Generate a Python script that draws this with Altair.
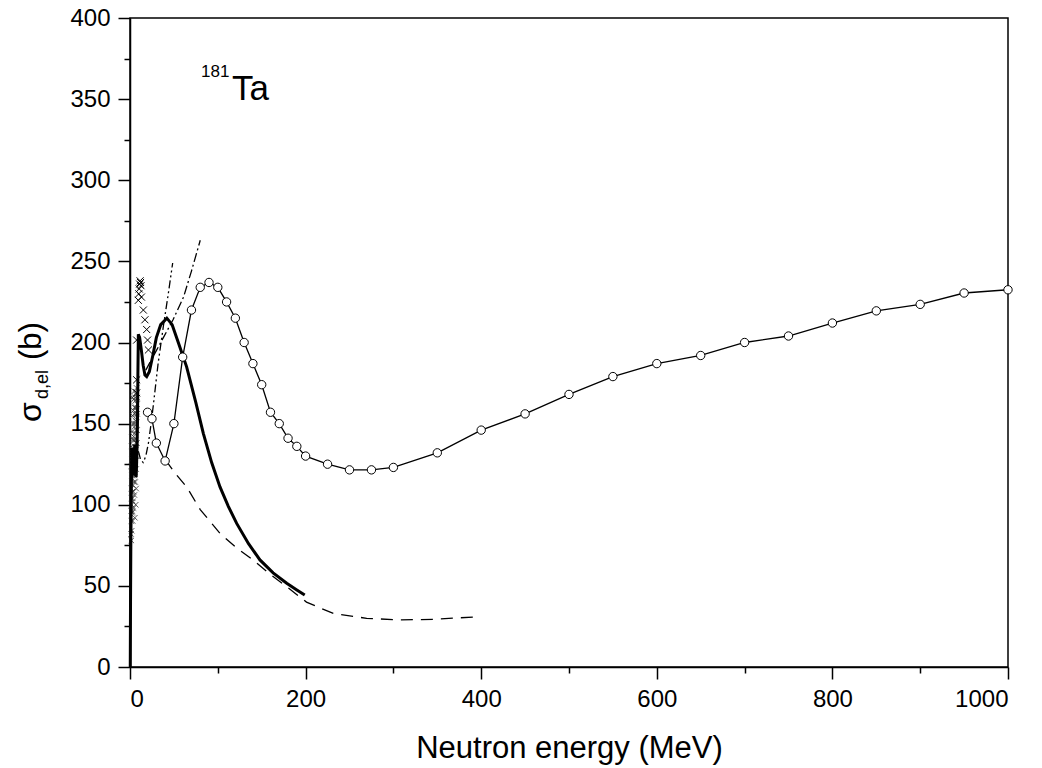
import altair as alt
import pandas as pd

FONT = "Liberation Sans"

# ---- open-circle series ----
circ_E = [20, 25, 30, 40, 50, 60, 70, 80, 90, 100, 110, 120, 130, 140, 150, 160, 170, 180, 190, 200,
          225, 250, 275, 300, 350, 400, 450, 500, 550, 600, 650, 700, 750, 800, 850, 900, 950, 1000]
circ_S = [157, 153, 138, 127, 150, 191, 220, 234, 237, 234, 225, 215, 200, 187, 174, 157, 150, 141, 136, 130,
          125, 121.5, 121.5, 123, 132, 146, 156, 168, 179, 187, 192, 200, 204, 212, 219.5, 223.5, 230.5, 232.5]

# ---- thick solid curve ----
thick_E = [0.3, 0.6, 1, 1.5, 2, 2.5, 3, 3.5, 4, 4.5, 5, 5.5, 6, 6.5, 7, 7.5, 8, 8.5, 9, 9.5,
           11, 13, 15, 17, 19, 22, 26, 30, 35, 42, 48, 55, 64.5, 75, 83.5, 93, 102.5, 112, 121.5,
           135, 148, 163, 178.5, 190, 199]
thick_S = [0, 40, 80, 110, 128, 135, 130, 122, 118, 125, 133, 137, 128, 120, 117, 125, 135, 150, 180, 205,
           203, 195, 186, 180, 179, 182, 192, 203, 211, 215, 211, 200, 185, 163, 144, 126, 111, 99, 88.5,
           76, 66, 58, 51.6, 47.5, 44.4]

# ---- dashed curve ----
dash_E = [40, 52, 64.5, 80, 102.5, 120, 140, 160, 178.5, 201, 231.5, 269.6, 307.5, 345, 398.6]
dash_S = [128, 119, 111, 97, 82.4, 74, 66, 57, 49.5, 40, 33, 30, 29, 29.4, 31]

# ---- dash-dot-dot curve ----
dd1_E = [9.5, 12, 15, 18, 21, 24, 26.5, 32, 38, 43.6, 48.6]
dd1_S = [133, 128, 126, 130, 138, 150, 161, 187, 210, 230, 249]

# ---- dash-dot curve ----
dd2_E = [18, 25, 30, 38, 49, 61, 70, 80]
dd2_S = [183, 190, 195, 203, 214, 228, 244, 263]

# ---- crosses (experimental points) ----
xlow_E = [1.5, 2, 1.5, 2.5, 2, 3, 2.5, 3.5, 3, 4, 3.5, 4.5, 4, 5, 4.5, 5.5, 5, 6, 5.5, 6.5, 6, 7, 7.5,
          3, 4, 5, 6, 7, 7.5, 7, 8, 7.5, 8, 2, 2.5, 1.5, 3, 3.5, 4, 4.5, 5, 1.8, 2.2, 2.8, 6.5, 5.5, 7,
          1.2, 1.4, 1.6, 2.4, 3.2, 3.8, 4.2, 4.8, 5.2, 5.8, 6.2, 6.8, 7.2, 7.8, 8.2, 2.6, 3.4, 4.4,
          5.4, 6.4, 7.4, 1.7, 2.9, 3.9, 4.9, 5.9, 6.9, 8.4]
xlow_S = [78, 84, 90, 95, 100, 104, 108, 112, 116, 120, 124, 128, 132, 136, 140, 144, 148, 152, 156, 160, 164, 168, 172,
          90, 98, 106, 114, 122, 130, 138, 146, 154, 162, 120, 128, 110, 140, 150, 158, 165, 170, 136, 145, 155, 100, 92, 110,
          82, 96, 104, 118, 126, 134, 142, 150, 160, 166, 140, 150, 146, 138, 156, 166, 102, 114,
          120, 130, 158, 124, 96, 108, 118, 128, 134, 166]
xhigh_E = [7.6, 7.6, 7.6, 9.5, 10, 10.5, 11, 11.5, 12, 12.5, 13, 15.2, 17, 19, 20, 21]
xhigh_S = [169, 177, 201.5, 226, 230, 233, 236, 238, 237, 235, 228, 220, 214, 208, 201.5, 195.4]

circ = pd.DataFrame({"E": circ_E, "S": circ_S})
thick = pd.DataFrame({"E": thick_E, "S": thick_S})
dashd = pd.DataFrame({"E": dash_E, "S": dash_S})
dd1 = pd.DataFrame({"E": dd1_E, "S": dd1_S})
dd2 = pd.DataFrame({"E": dd2_E, "S": dd2_S})
xlow = pd.DataFrame({"E": xlow_E, "S": xlow_S})
xhigh = pd.DataFrame({"E": xhigh_E, "S": xhigh_S})

xscale = alt.Scale(domain=[0, 1000], nice=False, zero=False)
yscale = alt.Scale(domain=[0, 400], nice=False, zero=False)

xaxis = alt.Axis(
    values=list(range(0, 1001, 100)),
    labelExpr="datum.value % 200 === 0 ? datum.label : ''",
    format="d",
    tickSize={"condition": {"test": "datum.value % 200 === 0", "value": 12}, "value": 6},
    title="Neutron energy (MeV)",
    titleFontSize=31, titleFont=FONT, titleFontWeight="normal", titleColor="black",
    titleY=90, titleBaseline="alphabetic",
    labelFontSize=24, labelFont=FONT, labelColor="black", labelPadding=8,
    grid=False, domainColor="black", domainWidth=1.5, tickColor="black", tickWidth=1.5,
    labelOverlap=False,
)
yaxis = alt.Axis(
    values=list(range(0, 401, 25)),
    labelExpr="datum.value % 50 === 0 ? datum.label : ''",
    format="d",
    tickSize={"condition": {"test": "datum.value % 50 === 0", "value": 12}, "value": 6},
    title=None,
    labelFontSize=24, labelFont=FONT, labelColor="black", labelPadding=8,
    grid=False, domainColor="black", domainWidth=1.5, tickColor="black", tickWidth=1.5,
    labelOverlap=False,
)

X = alt.X("E:Q", scale=xscale, axis=xaxis)
Y = alt.Y("S:Q", scale=yscale, axis=yaxis)

circ_line = alt.Chart(circ).mark_line(color="black", strokeWidth=1.3).encode(x=X, y=Y)
circ_pts = alt.Chart(circ).mark_point(shape="circle", size=70, filled=True, fill="white",
                                      stroke="black", strokeWidth=1, opacity=1).encode(x=X, y=Y)
thick_line = alt.Chart(thick).mark_line(color="black", strokeWidth=3).encode(x=X, y=Y)
dash_line = alt.Chart(dashd).mark_line(color="black", strokeWidth=1.3, strokeDash=[12, 8]).encode(x=X, y=Y)
dd1_line = alt.Chart(dd1).mark_line(color="black", strokeWidth=1.3, strokeDash=[8, 3, 2, 3, 2, 3]).encode(x=X, y=Y)
dd2_line = alt.Chart(dd2).mark_line(color="black", strokeWidth=1.3, strokeDash=[9, 3, 2, 3]).encode(x=X, y=Y)

XPATH = "M-1,-1L1,1M-1,1L1,-1"
xlow_pts = alt.Chart(xlow).mark_point(shape=XPATH, size=30, filled=False, stroke="#333333",
                                      strokeWidth=0.8, opacity=1).encode(x=X, y=Y)
xhigh_pts = alt.Chart(xhigh).mark_point(shape=XPATH, size=50, filled=False, stroke="black",
                                        strokeWidth=1, opacity=1).encode(x=X, y=Y)

# annotations
lab = pd.DataFrame({"t": [0]})
def txt(text, x, y, size, angle=0):
    return alt.Chart(lab).mark_text(text=text, font=FONT, fontSize=size, color="black",
                                    align="left", baseline="alphabetic", angle=angle).encode(
        x=alt.value(x), y=alt.value(y))

ann = [
    txt("181", 71, 59, 17),
    txt("Ta", 102, 82, 35),
    txt("σ", -89, 404, 32, 270),
    txt("d,el", -82, 381, 18, 270),
    txt("(b)", -89, 342, 31, 270),
]

chart = alt.layer(
    dash_line, dd1_line, dd2_line, xlow_pts, thick_line, xhigh_pts, circ_line, circ_pts, *ann
).properties(
    width=878, height=649,
    autosize=alt.AutoSizeParams(type="none"),
    padding={"left": 130, "top": 18, "right": 34, "bottom": 101},
    background="white",
).configure_view(stroke="black", strokeWidth=1.5)

chart.save("out.html", embed_options={"renderer": "svg", "actions": False})
